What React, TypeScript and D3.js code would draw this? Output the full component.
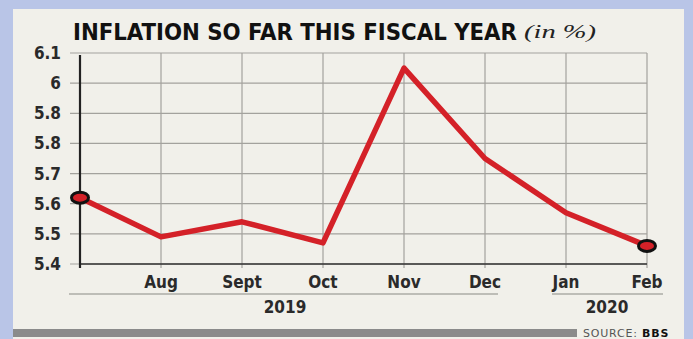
import React from "react";
import * as d3 from "d3";

const months = ["Jul", "Aug", "Sept", "Oct", "Nov", "Dec", "Jan", "Feb"];
const monthLabels = ["", "Aug", "Sept", "Oct", "Nov", "Dec", "Jan", "Feb"];
const inflation = [5.62, 5.49, 5.54, 5.47, 6.05, 5.75, 5.57, 5.46];
const yTicks = [5.4, 5.5, 5.6, 5.7, 5.8, 5.9, 6.0, 6.1];
const yTickLabels = ["5.4", "5.5", "5.6", "5.7", "5.8", "5.8", "6", "6.1"];
const years = [
  { label: "2019", from: "Jul", to: "Dec" },
  { label: "2020", from: "Jan", to: "Feb" },
];
const title = "INFLATION SO FAR THIS FISCAL YEAR";
const unit = "(in %)";

const W = 693;
const H = 339;
const FONT = "'Liberation Sans Narrow', 'DejaVu Sans Condensed', 'Open Sans', sans-serif";

export default function App() {
  const x = d3.scalePoint<string>().domain(months).range([80, 647]);
  const y = d3.scaleLinear().domain([5.4, 6.1]).range([264, 53]);
  const line = d3
    .line<number>()
    .x((_, i) => x(months[i]) as number)
    .y((d) => y(d));

  const x0 = x(months[0]) as number;
  const x1 = x(months[months.length - 1]) as number;
  const last = months.length - 1;

  return (
    <div style={{ position: "fixed", left: 0, top: 0 }}>
      <svg width={W} height={H} style={{ display: "block" }}>
        <rect x={0} y={0} width={W} height={H} fill="#b9c5e7" />
        <rect x={13} y={9} width={671} height={H - 9} fill="#f1f0ea" />
        {/* title */}
        <text
          x={73}
          y={40}
          fontFamily={FONT}
          fontWeight="bold"
          fontSize={23}
          fill="#111"
          textLength={444}
          lengthAdjust="spacingAndGlyphs"
        >
          {title}
        </text>
        <text
          x={524}
          y={38}
          fontFamily="'Liberation Serif', 'DejaVu Serif', serif"
          fontStyle="italic"
          fontSize={18}
          fill="#222"
          textLength={72}
          lengthAdjust="spacingAndGlyphs"
        >
          {unit}
        </text>
        {/* horizontal grid */}
        {yTicks.map((t, i) => (
          <g key={"h" + i}>
            <line x1={70} x2={x1} y1={y(t)} y2={y(t)} stroke="#a3a29d" strokeWidth={1.2} />
            <text
              x={61}
              y={y(t)}
              dy="0.35em"
              textAnchor="end"
              fontFamily={FONT}
              fontWeight="bold"
              fontSize={17}
              fill="#2a2a2a"
            >
              {yTickLabels[i]}
            </text>
          </g>
        ))}
        {/* vertical grid */}
        {months.map((m, i) =>
          i === 0 ? null : (
            <g key={"v" + i}>
              <line x1={x(m)} x2={x(m)} y1={53} y2={268} stroke="#a3a29d" strokeWidth={1.2} />
              <text
                x={x(m)}
                y={282}
                dy="0.35em"
                textAnchor="middle"
                fontFamily={FONT}
                fontWeight="bold"
                fontSize={17}
                fill="#2a2a2a"
              >
                {monthLabels[i]}
              </text>
            </g>
          )
        )}
        {/* axes */}
        <line x1={x0} x2={x1} y1={y(5.4)} y2={y(5.4)} stroke="#333" strokeWidth={1.5} />
        <line x1={x0} x2={x0} y1={55} y2={268} stroke="#222" strokeWidth={2.2} />
        {/* year groups */}
        {years.map((g, i) => {
          const a = (x(g.from) as number) - (i === 0 ? 11 : 14);
          const b = (x(g.to) as number) + (i === 0 ? 13 : 16);
          return (
            <g key={"y" + i}>
              <line x1={a} x2={b} y1={294} y2={294} stroke="#8a8984" strokeWidth={1.2} />
              <text
                x={i === 0 ? 285 : 607}
                y={307}
                dy="0.35em"
                textAnchor="middle"
                fontFamily={FONT}
                fontWeight="bold"
                fontSize={17}
                fill="#2a2a2a"
              >
                {g.label}
              </text>
            </g>
          );
        })}
        {/* line */}
        <path d={line(inflation) || ""} fill="none" stroke="#d42128" strokeWidth={5.5} strokeLinejoin="round" />
        {[0, last].map((i) => (
          <ellipse
            key={"m" + i}
            cx={x(months[i])}
            cy={y(inflation[i])}
            rx={8.5}
            ry={5.5}
            fill="#d42128"
            stroke="#111"
            strokeWidth={3}
          />
        ))}
        {/* footer */}
        <rect x={13} y={329} width={564} height={8} fill="#8b8b8b" />
        <text
          x={583}
          y={337}
          fontFamily="'DejaVu Sans', sans-serif"
          fontSize={11}
          letterSpacing={0.8}
          fill="#555"
        >
          SOURCE: <tspan fontWeight="bold" fill="#111">BBS</tspan>
        </text>
      </svg>
    </div>
  );
}
